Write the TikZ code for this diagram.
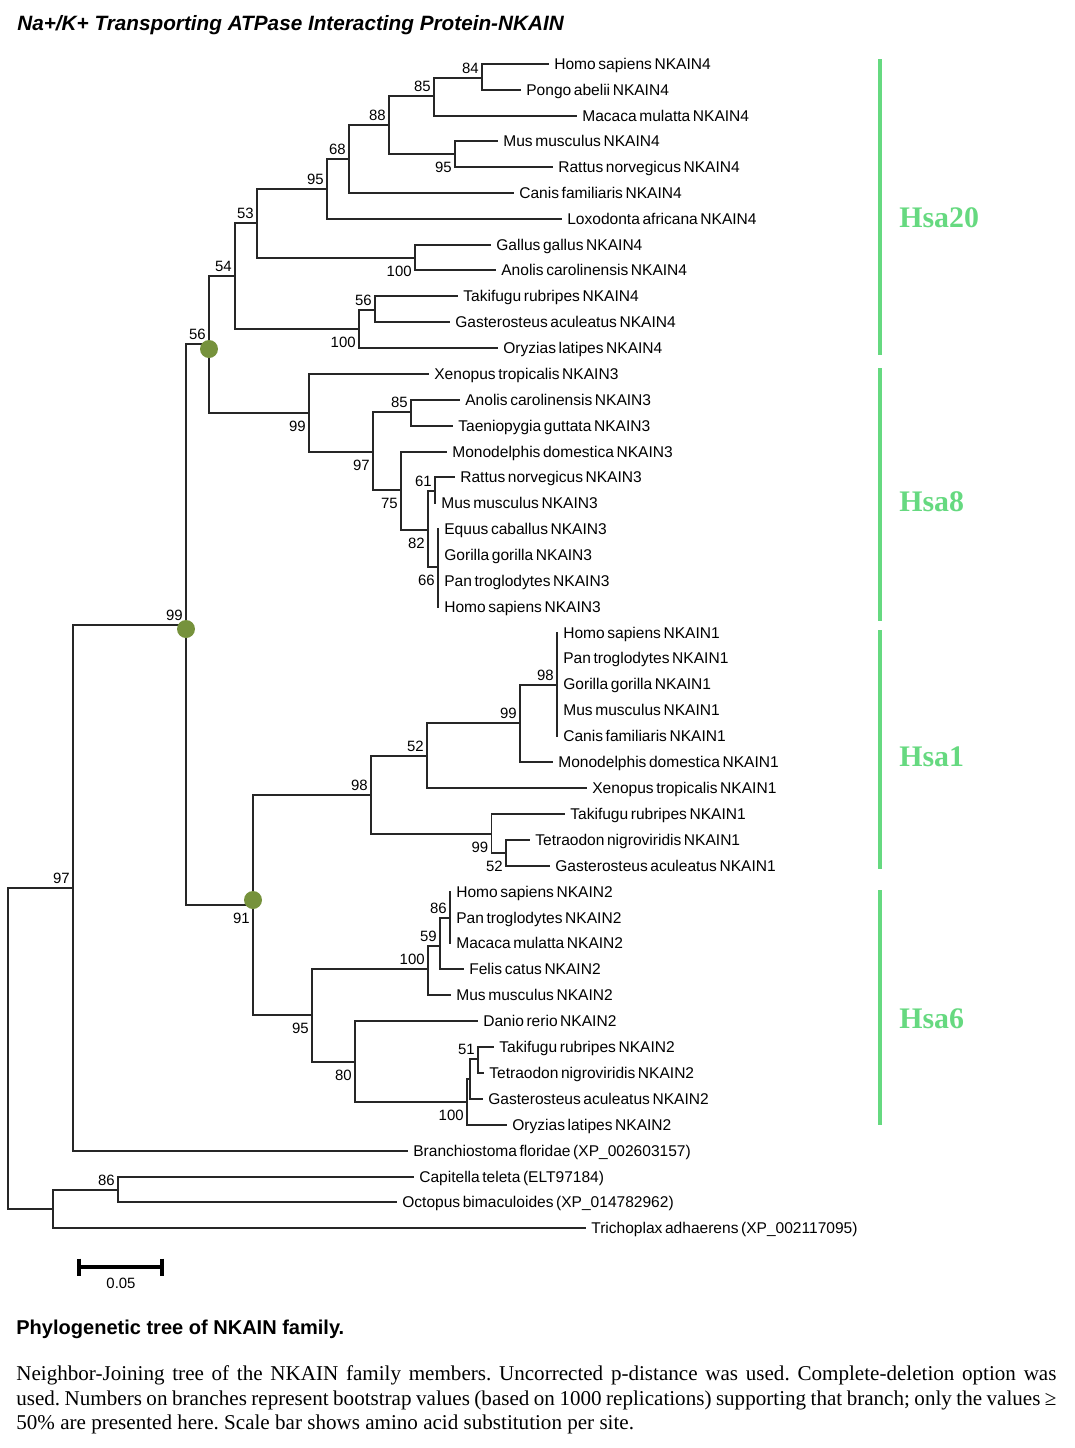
\documentclass[tikz,border=0pt]{standalone}
\usepackage{fontspec}
\setmainfont{Liberation Serif}
\setsansfont{Liberation Sans}
\newfontfamily\treefont[WordSpace=0.6]{Liberation Sans}
\definecolor{dotgreen}{RGB}{118,146,60}
\definecolor{hsagreen}{RGB}{102,217,128}
\begin{document}
\begin{tikzpicture}[x=0.02cm,y=-0.02cm,line join=miter,line cap=rect]
	\tikzset{branch/.style={line width=0.75pt,black!85},
		leaf/.style={anchor=base west,inner sep=0pt,xshift=0.12cm,yshift=-0.11cm,font=\treefont\fontsize{8.85}{10}\selectfont},
		bsup/.style={anchor=base east,inner sep=0pt,xshift=-0.06cm,yshift=0.094cm,font=\sffamily\fontsize{8.5}{10}\selectfont},
		bsdn/.style={anchor=base east,inner sep=0pt,xshift=-0.06cm,yshift=-0.37cm,font=\sffamily\fontsize{8.5}{10}\selectfont},
		hsa/.style={anchor=base west,inner sep=0pt,text=hsagreen,font=\bfseries\fontsize{17}{20}\selectfont},
		bar/.style={hsagreen,line width=0.08cm,line cap=butt}}
	\useasboundingbox (0,0) rectangle (1075,1448);
	% title
	\node[anchor=base west,inner sep=0pt,font=\sffamily\bfseries\itshape\fontsize{11.8}{14}\selectfont] (title) at (17,30) {Na+/K+ Transporting ATPase Interacting Protein-NKAIN};
	% leaves
	\foreach \n/\x/\y/\name in {
		1/548/64/{Homo sapiens NKAIN4}, 2/520/90/{Pongo abelii NKAIN4}, 3/576/116/{Macaca mulatta NKAIN4},
		4/497/141/{Mus musculus NKAIN4}, 5/552/167/{Rattus norvegicus NKAIN4}, 6/513/193/{Canis familiaris NKAIN4},
		7/561/219/{Loxodonta africana NKAIN4}, 8/490/245/{Gallus gallus NKAIN4}, 9/495/270/{Anolis carolinensis NKAIN4},
		10/457/296/{Takifugu rubripes NKAIN4}, 11/449/322/{Gasterosteus aculeatus NKAIN4}, 12/497/348/{Oryzias latipes NKAIN4},
		13/428/374/{Xenopus tropicalis NKAIN3}, 14/459/400/{Anolis carolinensis NKAIN3}, 15/452/426/{Taeniopygia guttata NKAIN3},
		16/446/452/{Monodelphis domestica NKAIN3}, 17/454/477/{Rattus norvegicus NKAIN3}, 18/435/503/{Mus musculus NKAIN3},
		19/438/529/{Equus caballus NKAIN3}, 20/438/555/{Gorilla gorilla NKAIN3}, 21/438/581/{Pan troglodytes NKAIN3},
		22/438/607/{Homo sapiens NKAIN3},
		23/557/633/{Homo sapiens NKAIN1}, 24/557/658/{Pan troglodytes NKAIN1}, 25/557/684/{Gorilla gorilla NKAIN1},
		26/557/710/{Mus musculus NKAIN1}, 27/557/736/{Canis familiaris NKAIN1}, 28/552/762/{Monodelphis domestica NKAIN1},
		29/586/788/{Xenopus tropicalis NKAIN1}, 30/564/814/{Takifugu rubripes NKAIN1}, 31/529/840/{Tetraodon nigroviridis NKAIN1},
		32/549/866/{Gasterosteus aculeatus NKAIN1},
		33/450/892/{Homo sapiens NKAIN2}, 34/450/918/{Pan troglodytes NKAIN2}, 35/450/943/{Macaca mulatta NKAIN2},
		36/463/969/{Felis catus NKAIN2}, 37/450/995/{Mus musculus NKAIN2}, 38/477/1021/{Danio rerio NKAIN2},
		39/493/1047/{Takifugu rubripes NKAIN2}, 40/483/1073/{Tetraodon nigroviridis NKAIN2}, 41/482/1099/{Gasterosteus aculeatus NKAIN2},
		42/506/1125/{Oryzias latipes NKAIN2},
		43/407/1151/{Branchiostoma floridae (XP\_002603157)}, 44/413/1177/{Capitella teleta (ELT97184)},
		45/396/1202/{Octopus bimaculoides (XP\_014782962)}, 46/585/1228/{Trichoplax adhaerens (XP\_002117095)}}
	{\coordinate (l\n) at (\x,\y); \node[leaf] (t\n) at (l\n) {\name};}
	% internal nodes
	\foreach \n/\x/\y in {n84/482/78, n85/434/96, n95a/455/154, n88/389/125, n68/349/159, n95b/327/189,
		n100a/415/258, n53/257/223, n56a/375/310, n100b/359/329, n54/235/276,
		n61/435/491, n66/438/567, n82/428/530, n75/401/490, n85b/411/412, n97a/373/452, n99a/309/413, n56b/209/344,
		n98a/557/685, n99b/520/723, n52a/427/756, n52b/506/853, n99c/491.5/834, n98b/371/795,
		n86/450/918, n59/440/946, n100c/428/969, n51/478/1059, nB/470/1079, n100d/467/1102, n80/355/1062, n95c/312/1015,
		n91/253/905, n99d/186/625, n97b/73/888, n86b/118/1190, nX/53/1209, root/8/1048}
	\coordinate (\n) at (\x,\y);
	% branches
	\foreach \p/\c in {n84/l1, n84/l2, n85/n84, n85/l3, n95a/l4, n95a/l5, n88/n85, n88/n95a, n68/n88, n68/l6,
		n95b/n68, n95b/l7, n100a/l8, n100a/l9, n53/n95b, n53/n100a, n56a/l10, n56a/l11, n100b/n56a, n100b/l12,
		n54/n53, n54/n100b,
		n61/l17, n61/l18, n66/l19, n66/l20, n66/l21, n66/l22, n82/n61, n82/n66, n75/l16, n75/n82,
		n85b/l14, n85b/l15, n97a/n85b, n97a/n75, n99a/l13, n99a/n97a, n56b/n54, n56b/n99a,
		n98a/l23, n98a/l24, n98a/l25, n98a/l26, n98a/l27, n99b/n98a, n99b/l28, n52a/n99b, n52a/l29,
		n52b/l31, n52b/l32, n99c/l30, n99c/n52b, n98b/n52a, n98b/n99c,
		n86/l33, n86/l34, n86/l35, n59/n86, n59/l36, n100c/n59, n100c/l37, n51/l39, n51/l40, nB/n51, nB/l41,
		n100d/nB, n100d/l42, n80/l38, n80/n100d, n95c/n100c, n95c/n80, n91/n98b, n91/n95c,
		n99d/n56b, n99d/n91, n97b/n99d, n97b/l43, n86b/l44, n86b/l45, nX/n86b, nX/l46, root/n97b, root/nX}
	\draw[branch] (\p) |- (\c);
	% bootstrap values
	\foreach \n/\v in {n84/84, n85/85, n88/88, n68/68, n95b/95, n53/53, n54/54, n56b/56, n56a/56, n85b/85, n61/61,
		n98a/98, n99b/99, n52a/52, n98b/98, n99d/99, n97b/97, n86/86, n59/59, n100c/100, n51/51, n86b/86}
	\node[bsup] (b\n) at (\n) {\v};
	\foreach \n/\v in {n95a/95, n100a/100, n100b/100, n99a/99, n97a/97, n75/75, n82/82, n66/66, n99c/99, n52b/52,
		n91/91, n95c/95, n80/80, n100d/100}
	\node[bsdn] (b\n) at (\n) {\v};
	\foreach \n/\s in {n56b/-0.1, n99d/-0.08, n91/0.1}
	\fill[dotgreen] ([yshift=\s cm]\n) circle[radius=0.18cm];
	% chromosome bars
	\foreach \a/\b/\c/\t in {59/355/227/Hsa20, 368/621/511/Hsa8, 630/869/766/Hsa1, 890/1125/1028/Hsa6}
	{\draw[bar] (880,\a)--(880,\b); \node[hsa] (h\t) at (899,\c) {\t};}
	% scale bar
	\coordinate (sbl) at (79,1267); \coordinate (sbr) at (162,1267);
	\draw[line width=0.08cm,line cap=butt] (sbl)--(sbr) ([yshift=0.17cm]sbl)--([yshift=-0.17cm]sbl) ([yshift=0.17cm]sbr)--([yshift=-0.17cm]sbr);
	\node[font=\sffamily\fontsize{8.5}{10}\selectfont,inner sep=0pt] (sblab) at (121,1283) {0.05};
	% caption
	\node[anchor=base west,inner sep=0pt,font=\sffamily\bfseries\fontsize{11.4}{14}\selectfont] (cap) at (16,1334) {Phylogenetic tree of NKAIN family.};
	\node[anchor=north west,inner sep=0pt,text width=592pt,align=justify,font=\frenchspacing\fontsize{12}{13.9}\selectfont] (body) at (16,1365.5)
	{Neighbor-Joining tree of the NKAIN family members. Uncorrected p-distance was used. Complete-deletion option was\linebreak
	used. Numbers on branches represent bootstrap values (based on 1000 replications) supporting that branch; only the values ≥\linebreak
	50\% are presented here. Scale bar shows amino acid substitution per site.};
\end{tikzpicture}
\end{document}
